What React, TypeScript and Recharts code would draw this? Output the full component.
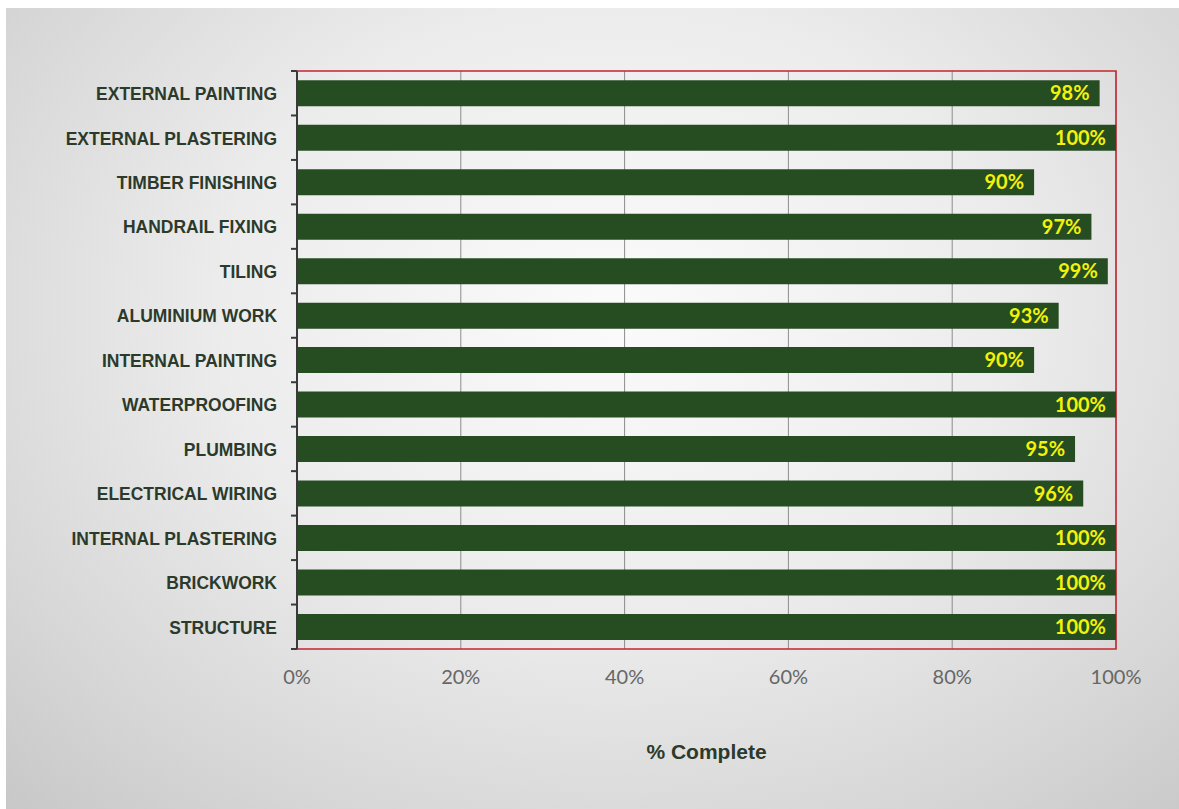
import React from "react";
import {
  BarChart,
  Bar,
  XAxis,
  YAxis,
  CartesianGrid,
  ReferenceArea,
  LabelList,
} from "recharts";

// top-to-bottom order, as in the picture
const tasks = [
  "EXTERNAL PAINTING",
  "EXTERNAL PLASTERING",
  "TIMBER FINISHING",
  "HANDRAIL  FIXING",
  "TILING",
  "ALUMINIUM WORK",
  "INTERNAL PAINTING",
  "WATERPROOFING",
  "PLUMBING",
  "ELECTRICAL WIRING",
  "INTERNAL PLASTERING",
  "BRICKWORK",
  "STRUCTURE",
];
const complete = [98, 100, 90, 97, 99, 93, 90, 100, 95, 96, 100, 100, 100];
const xTicks = [0, 20, 40, 60, 80, 100];

const rows = tasks.map((task, i) => ({ task, pct: complete[i] }));

const labelFont = "'Liberation Sans Narrow', 'Arial Narrow', 'Liberation Sans', Arial, sans-serif";
const gothic = "'Century Gothic', Lato, 'Noto Sans', sans-serif";
const darkText = "#2b3a2b";

function TaskTick(props: any) {
  const { x, y, payload, index, visibleTicksCount } = props;
  const half = payload.offset || 0;
  const last = index === visibleTicksCount - 1;
  return (
    <g>
      <line x1={x - 6} x2={x} y1={y - half} y2={y - half} stroke="#3a3a3a" strokeWidth={2} />
      {last && (
        <line x1={x - 6} x2={x} y1={y + half} y2={y + half} stroke="#3a3a3a" strokeWidth={2} />
      )}
      <text
        transform={`translate(${x - 20},${y}) scale(0.92,1)`}
        x={0}
        y={0}
        dy="0.36em"
        textAnchor="end"
        fill={darkText}
        fontFamily={labelFont}
        fontWeight={700}
        fontSize={19}
      >
        {payload.value}
      </text>
    </g>
  );
}

export default function App() {
  return (
    <div
      style={{
        position: "absolute",
        left: 6,
        top: 8,
        width: 1173,
        height: 801,
        background:
          "radial-gradient(ellipse 75% 85% at 52% 38%, #fbfbfb 0%, #ececec 45%, #d6d6d6 80%, #c8c8c8 100%)",
      }}
    >
      <BarChart
        width={1173}
        height={801}
        data={rows}
        layout="vertical"
        margin={{ top: 63, right: 63, bottom: 45, left: 0 }}
        barCategoryGap="21%"
      >
        <CartesianGrid horizontal={false} vertical stroke="#8c8c8c" strokeWidth={1} />
        <ReferenceArea
          x1={0}
          x2={100}
          fill="none"
          stroke="#c4242c"
          strokeWidth={1.5}
          ifOverflow="visible"
        />
        <XAxis
          type="number"
          domain={[0, 100]}
          ticks={xTicks}
          tickFormatter={(v) => `${v}%`}
          axisLine={false}
          tickLine={false}
          tickSize={0}
          tickMargin={21}
          height={115}
          tick={{ fill: "#666666", fontSize: 20, fontFamily: gothic, fontWeight: 400 }}
          label={{
            value: "% Complete",
            position: "insideBottom",
            offset: 5,
            fill: darkText,
            fontSize: 21,
            fontWeight: 700,
            fontFamily: labelFont,
          }}
        />
        <YAxis
          type="category"
          dataKey="task"
          width={291}
          interval={0}
          axisLine={{ stroke: "#3a3a3a", strokeWidth: 2 }}
          tickLine={false}
          tickSize={0}
          tickMargin={0}
          tick={<TaskTick />}
        />
        <Bar dataKey="pct" fill="#264c22" isAnimationActive={false}>
          <LabelList
            dataKey="pct"
            position="insideRight"
            offset={10}
            formatter={(v: any) => `${v}%`}
            fill="#f2f20a"
            fontSize={20}
            fontWeight={700}
            fontFamily={gothic}
          />
        </Bar>
      </BarChart>
    </div>
  );
}
